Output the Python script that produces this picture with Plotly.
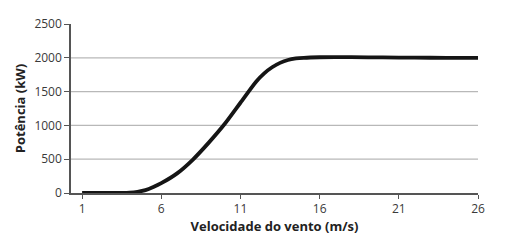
import plotly.graph_objects as go

wind = [1, 2, 3, 3.5, 4, 4.5, 5, 5.5, 6, 7, 8, 9, 10, 11, 12, 12.5, 13, 13.5, 14, 14.5, 15, 16, 17, 18, 20, 22, 24, 26]
power = [0, 0, 0, 2, 6, 18, 42, 88, 145, 290, 495, 745, 1020, 1335, 1650, 1770, 1860, 1925, 1968, 1990, 2000, 2008, 2010, 2010, 2005, 2002, 2000, 2000]
xticks = [1, 6, 11, 16, 21, 26]
yticks = [0, 500, 1000, 1500, 2000, 2500]
grid_vals = [500, 1000, 1500, 2000]

fig = go.Figure()
fig.add_trace(go.Scatter(x=wind, y=power, mode="lines",
                         line=dict(color="#151515", width=3.8, shape="spline", smoothing=0.8),
                         showlegend=False, hoverinfo="skip"))
for g in grid_vals:
    fig.add_shape(type="line", xref="paper", x0=0, x1=1, yref="y", y0=g, y1=g,
                  line=dict(color="#b8b8b8", width=1.2), layer="below")

font = "Open Sans, Liberation Sans, sans-serif"
fig.update_layout(
    width=508, height=242,
    margin=dict(l=71, r=30, t=24, b=49),
    paper_bgcolor="white", plot_bgcolor="white",
    font=dict(family=font, size=12, color="#3a3a3a"),
    xaxis=dict(range=[0.3, 26], tickvals=xticks, showgrid=False, zeroline=False,
               showline=True, linecolor="#555", linewidth=1.5,
               ticks="outside", ticklen=4, tickcolor="#555",
               title=dict(text="<b>Velocidade do vento (m/s)</b>", font=dict(size=13, color="#222"), standoff=4)),
    yaxis=dict(range=[0, 2500], tickvals=yticks, showgrid=False, zeroline=False,
               showline=True, linecolor="#555", linewidth=1.5,
               ticks="outside", ticklen=5, tickcolor="#555",
               title=dict(text="<b>Potência (kW)</b>", font=dict(size=13, color="#222"), standoff=6)),
)
fig.write_html("out.html")
